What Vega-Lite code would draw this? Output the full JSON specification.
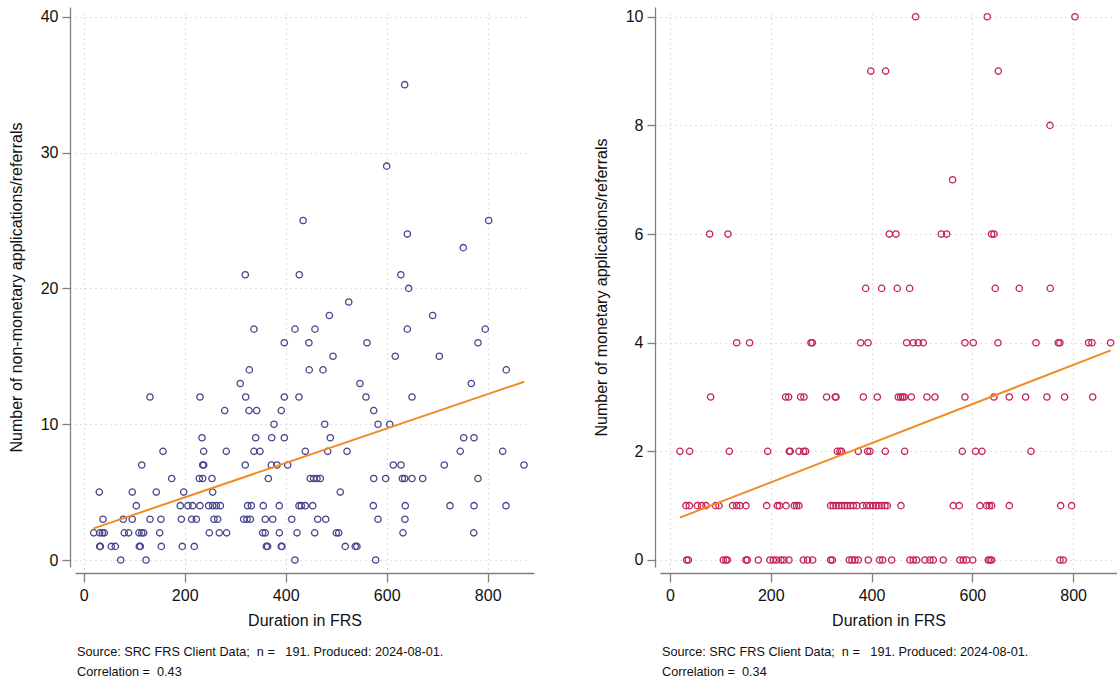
{
  "$schema": "https://vega.github.io/schema/vega-lite/v6.json",
  "padding": {"top": 7, "left": 8, "right": 0, "bottom": 0},
  "background": "white",
  "spacing": 59,
  "config": {
    "view": {"stroke": null},
    "font": "Liberation Sans",
    "axis": {
      "domain": true, "domainColor": "#808080", "domainWidth": 1.3,
      "labelFont": "Liberation Sans", "labelFontSize": 16, "labelColor": "#111111",
      "titleFont": "Liberation Sans", "titleFontSize": 16, "titleFontWeight": "normal", "titleColor": "#111111",
      "tickColor": "#808080", "tickWidth": 1.3,
      "gridColor": "#c4c4c4", "gridDash": [1, 4], "gridWidth": 1.2
    },
    "axisX": {"offset": 6, "tickSize": 9, "labelPadding": 5, "titlePadding": 9},
    "axisY": {"offset": 5, "tickSize": 8, "labelPadding": 4, "titlePadding": 16, "labelAngle": 0},
    "title": {"font": "Liberation Sans", "fontSize": 12.7, "fontWeight": "normal", "color": "#111111", "anchor": "start", "orient": "bottom", "frame": "group", "lineHeight": 20, "offset": 18, "dx": 2}
  },
  "datasets": {
    "left": [
      {"d":320,"n":21},{"d":434.5,"n":25},{"d":427,"n":21},
      {"d":635.6,"n":35},{"d":600,"n":29},{"d":641,"n":24},{"d":751.7,"n":23},{"d":802,"n":25},{"d":628,"n":21},{"d":643.6,"n":20},
      {"d":337.2,"n":17},{"d":418.4,"n":17},{"d":458,"n":17},
      {"d":486.4,"n":18},
      {"d":397.3,"n":16},{"d":446,"n":16},
      {"d":493.7,"n":15},
      {"d":328,"n":14},{"d":446.6,"n":14},{"d":473.9,"n":14},
      {"d":310,"n":13},
      {"d":131.3,"n":12},{"d":230.3,"n":12},{"d":320.8,"n":12},{"d":397.3,"n":12},{"d":426.3,"n":12},
      {"d":279.2,"n":11},{"d":327.3,"n":11},{"d":342.5,"n":11},{"d":391.3,"n":11},
      {"d":376.8,"n":10},{"d":477.2,"n":10},
      {"d":234.3,"n":9},{"d":340.6,"n":9},{"d":372.3,"n":9},{"d":397.3,"n":9},{"d":488.3,"n":9},
      {"d":157,"n":8},{"d":237.6,"n":8},{"d":282.4,"n":8},{"d":337.2,"n":8},{"d":349.1,"n":8},{"d":438.8,"n":8},{"d":483.2,"n":8},
      {"d":114.9,"n":7},{"d":235.6,"n":7},{"d":237.6,"n":7},{"d":320,"n":7},{"d":371.5,"n":7},{"d":382.8,"n":7},{"d":404,"n":7},
      {"d":174.3,"n":6},{"d":229,"n":6},{"d":235.6,"n":6},{"d":254,"n":6},{"d":365.6,"n":6},{"d":448.7,"n":6},{"d":455.3,"n":6},{"d":461.9,"n":6},{"d":468.5,"n":6},
      {"d":30.9,"n":5},{"d":96.2,"n":5},{"d":143.8,"n":5},{"d":198,"n":5},{"d":255.4,"n":5},
      {"d":104.2,"n":4},{"d":191.3,"n":4},{"d":206.5,"n":4},{"d":215.8,"n":4},{"d":230.3,"n":4},{"d":247.5,"n":4},{"d":255.4,"n":4},{"d":262.6,"n":4},{"d":270.6,"n":4},{"d":324.7,"n":4},{"d":332,"n":4},{"d":355.6,"n":4},{"d":387.3,"n":4},{"d":426.3,"n":4},{"d":430.9,"n":4},{"d":438.8,"n":4},{"d":453.5,"n":4},
      {"d":38.2,"n":3},{"d":78.4,"n":3},{"d":96.2,"n":3},{"d":131.3,"n":3},{"d":153,"n":3},{"d":193.3,"n":3},{"d":213.9,"n":3},{"d":223.1,"n":3},{"d":258,"n":3},{"d":265.3,"n":3},{"d":316.8,"n":3},{"d":323.4,"n":3},{"d":330,"n":3},{"d":359.6,"n":3},{"d":374.3,"n":3},{"d":411.9,"n":3},{"d":463.4,"n":3},{"d":479.2,"n":3},
      {"d":19.8,"n":2},{"d":31.7,"n":2},{"d":37,"n":2},{"d":40.9,"n":2},{"d":80.4,"n":2},{"d":89,"n":2},{"d":109.5,"n":2},{"d":114.9,"n":2},{"d":118.8,"n":2},{"d":150.5,"n":2},{"d":248.7,"n":2},{"d":268.5,"n":2},{"d":283,"n":2},{"d":354.5,"n":2},{"d":359.6,"n":2},{"d":387.3,"n":2},{"d":422.4,"n":2},{"d":457.4,"n":2},{"d":500.2,"n":2},
      {"d":31.7,"n":1},{"d":33,"n":1},{"d":54.7,"n":1},{"d":62.6,"n":1},{"d":110.1,"n":1},{"d":112.2,"n":1},{"d":153.7,"n":1},{"d":195.2,"n":1},{"d":219,"n":1},{"d":361.6,"n":1},{"d":364.2,"n":1},{"d":391.3,"n":1},{"d":392.6,"n":1},
      {"d":73.3,"n":0},{"d":123.4,"n":0},{"d":418.4,"n":0},
      {"d":524.8,"n":19},
      {"d":691.1,"n":18},
      {"d":640.8,"n":17},{"d":795.2,"n":17},
      {"d":561,"n":16},{"d":780.8,"n":16},
      {"d":617,"n":15},{"d":704.2,"n":15},
      {"d":836.8,"n":14},
      {"d":547.1,"n":13},{"d":767.5,"n":13},
      {"d":559,"n":12},{"d":650.1,"n":12},
      {"d":574.3,"n":11},
      {"d":582.8,"n":10},{"d":606,"n":10},
      {"d":752.5,"n":9},{"d":772.9,"n":9},
      {"d":521.4,"n":8},{"d":745.7,"n":8},{"d":829.7,"n":8},
      {"d":613.1,"n":7},{"d":628.3,"n":7},{"d":714.1,"n":7},{"d":871.9,"n":7},
      {"d":574.3,"n":6},{"d":598,"n":6},{"d":631,"n":6},{"d":635.6,"n":6},{"d":650.1,"n":6},{"d":671.3,"n":6},{"d":780.8,"n":6},
      {"d":508.1,"n":5},
      {"d":573.5,"n":4},{"d":636.8,"n":4},{"d":725.3,"n":4},{"d":772.9,"n":4},{"d":836.2,"n":4},
      {"d":582.8,"n":3},{"d":636.2,"n":3},
      {"d":505,"n":2},{"d":632.3,"n":2},{"d":772.3,"n":2},
      {"d":518,"n":1},{"d":537.8,"n":1},{"d":541.1,"n":1},
      {"d":578.2,"n":0}
    ],
    "right": [
      {"d":487.4,"n":10},{"d":629.6,"n":10},{"d":803.6,"n":10},
      {"d":398.5,"n":9},{"d":427.9,"n":9},{"d":651.5,"n":9},
      {"d":754,"n":8},
      {"d":560.8,"n":7},
      {"d":78.7,"n":6},{"d":115,"n":6},{"d":435.2,"n":6},{"d":448.4,"n":6},{"d":538.4,"n":6},{"d":549,"n":6},{"d":638.2,"n":6},{"d":642.9,"n":6},
      {"d":388.3,"n":5},{"d":420,"n":5},{"d":451,"n":5},{"d":475.5,"n":5},{"d":645.5,"n":5},{"d":693.1,"n":5},{"d":754.6,"n":5},
      {"d":132.3,"n":4},{"d":158,"n":4},{"d":279.8,"n":4},{"d":282.4,"n":4},{"d":378.3,"n":4},{"d":392.9,"n":4},{"d":469.6,"n":4},{"d":482.8,"n":4},{"d":492.7,"n":4},{"d":502.6,"n":4},{"d":585.3,"n":4},{"d":601.8,"n":4},{"d":650.8,"n":4},{"d":726.2,"n":4},{"d":770.4,"n":4},{"d":773.8,"n":4},{"d":830.7,"n":4},{"d":837.3,"n":4},{"d":874.4,"n":4},
      {"d":80.7,"n":3},{"d":229.5,"n":3},{"d":235.4,"n":3},{"d":259.3,"n":3},{"d":265.9,"n":3},{"d":310.8,"n":3},{"d":328,"n":3},{"d":329.4,"n":3},{"d":383.6,"n":3},{"d":411.4,"n":3},{"d":453,"n":3},{"d":457.7,"n":3},{"d":461.7,"n":3},{"d":464.9,"n":3},{"d":478.8,"n":3},{"d":509.9,"n":3},{"d":525.8,"n":3},{"d":585.3,"n":3},{"d":642.9,"n":3},{"d":673.3,"n":3},{"d":705.7,"n":3},{"d":748,"n":3},{"d":783.1,"n":3},{"d":838.7,"n":3},
      {"d":19.8,"n":2},{"d":39,"n":2},{"d":117.7,"n":2},{"d":193.8,"n":2},{"d":236.8,"n":2},{"d":238.8,"n":2},{"d":256,"n":2},{"d":265.2,"n":2},{"d":269.2,"n":2},{"d":332,"n":2},{"d":337.3,"n":2},{"d":340.6,"n":2},{"d":373.7,"n":2},{"d":392.2,"n":2},{"d":396.8,"n":2},{"d":427.2,"n":2},{"d":465.7,"n":2},{"d":580,"n":2},{"d":606.5,"n":2},{"d":619,"n":2},{"d":716.3,"n":2},
      {"d":31.7,"n":1},{"d":38.4,"n":1},{"d":54.2,"n":1},{"d":62.8,"n":1},{"d":71.4,"n":1},{"d":90.6,"n":1},{"d":97.2,"n":1},{"d":124.3,"n":1},{"d":132.3,"n":1},{"d":138.9,"n":1},{"d":150.8,"n":1},{"d":191.8,"n":1},{"d":212.9,"n":1},{"d":216.9,"n":1},{"d":230.2,"n":1},{"d":246.7,"n":1},{"d":251.3,"n":1},{"d":255.9,"n":1},{"d":318.8,"n":1},{"d":324.1,"n":1},{"d":329.4,"n":1},{"d":334.7,"n":1},{"d":340.6,"n":1},{"d":346.6,"n":1},{"d":351.9,"n":1},{"d":357.8,"n":1},{"d":363.8,"n":1},{"d":370.4,"n":1},{"d":382.3,"n":1},{"d":390.2,"n":1},{"d":396.8,"n":1},{"d":403.4,"n":1},{"d":408.7,"n":1},{"d":413.3,"n":1},{"d":420,"n":1},{"d":426.6,"n":1},{"d":431.2,"n":1},{"d":458.3,"n":1},{"d":562.1,"n":1},{"d":574,"n":1},{"d":615.1,"n":1},{"d":628.4,"n":1},{"d":633.6,"n":1},{"d":638.2,"n":1},{"d":673.3,"n":1},{"d":775.2,"n":1},{"d":797,"n":1},
      {"d":33.1,"n":0},{"d":36.4,"n":0},{"d":105.8,"n":0},{"d":111.1,"n":0},{"d":113.8,"n":0},{"d":150.8,"n":0},{"d":153.4,"n":0},{"d":175.3,"n":0},{"d":198.4,"n":0},{"d":205,"n":0},{"d":211.6,"n":0},{"d":220.2,"n":0},{"d":226.2,"n":0},{"d":236,"n":0},{"d":264.6,"n":0},{"d":273.1,"n":0},{"d":283,"n":0},{"d":318.8,"n":0},{"d":322.1,"n":0},{"d":355.8,"n":0},{"d":361.1,"n":0},{"d":367.1,"n":0},{"d":373.7,"n":0},{"d":393.5,"n":0},{"d":416,"n":0},{"d":422,"n":0},{"d":439.9,"n":0},{"d":476.2,"n":0},{"d":482.8,"n":0},{"d":489.4,"n":0},{"d":505.9,"n":0},{"d":515.9,"n":0},{"d":522.5,"n":0},{"d":542.3,"n":0},{"d":575.4,"n":0},{"d":582,"n":0},{"d":588.6,"n":0},{"d":600.6,"n":0},{"d":631.6,"n":0},{"d":634.9,"n":0},{"d":638.2,"n":0},{"d":773.8,"n":0},{"d":780.4,"n":0}
    ],
    "fitLeft": [{"d":19.8,"fit":2.33},{"d":872.5,"fit":13.13}],
    "fitRight": [{"d":19.8,"fit":0.78},{"d":874.4,"fit":3.86}]
  },
  "hconcat": [
    {
      "width": 459, "height": 560,
      "title": {"text": ["Source: SRC FRS Client Data;\u00a0 n =\u00a0\u00a0 191. Produced: 2024-08-01.", "Correlation =\u00a0 0.43"]},
      "layer": [
        {
          "data": {"name": "left"},
          "mark": {"type": "point", "shape": "circle", "filled": false, "size": 40, "strokeWidth": 1.3, "color": "#46468a", "opacity": 1},
          "encoding": {
            "x": {"field": "d", "type": "quantitative", "title": "Duration in FRS",
                  "scale": {"domain": [-17.2, 891.7], "nice": false, "zero": false},
                  "axis": {"values": [0, 200, 400, 600, 800]}},
            "y": {"field": "n", "type": "quantitative", "title": "Number of non-monetary applications/referrals",
                  "scale": {"domain": [-0.515, 40.72], "nice": false, "zero": false},
                  "axis": {"values": [0, 10, 20, 30, 40]}}
          }
        },
        {
          "data": {"name": "fitLeft"},
          "mark": {"type": "line", "color": "#f28a24", "strokeWidth": 2},
          "encoding": {"x": {"field": "d", "type": "quantitative"}, "y": {"field": "fit", "type": "quantitative"}}
        }
      ]
    },
    {
      "width": 457, "height": 560,
      "title": {"text": ["Source: SRC FRS Client Data;\u00a0 n =\u00a0\u00a0 191. Produced: 2024-08-01.", "Correlation =\u00a0 0.34"]},
      "layer": [
        {
          "data": {"name": "right"},
          "mark": {"type": "point", "shape": "circle", "filled": false, "size": 40, "strokeWidth": 1.3, "color": "#c42358", "opacity": 1},
          "encoding": {
            "x": {"field": "d", "type": "quantitative", "title": "Duration in FRS",
                  "scale": {"domain": [-19.8, 887], "nice": false, "zero": false},
                  "axis": {"values": [0, 200, 400, 600, 800]}},
            "y": {"field": "n", "type": "quantitative", "title": "Number of monetary applications/referrals",
                  "scale": {"domain": [-0.129, 10.18], "nice": false, "zero": false},
                  "axis": {"values": [0, 2, 4, 6, 8, 10]}}
          }
        },
        {
          "data": {"name": "fitRight"},
          "mark": {"type": "line", "color": "#f28a24", "strokeWidth": 2},
          "encoding": {"x": {"field": "d", "type": "quantitative"}, "y": {"field": "fit", "type": "quantitative"}}
        }
      ]
    }
  ]
}
